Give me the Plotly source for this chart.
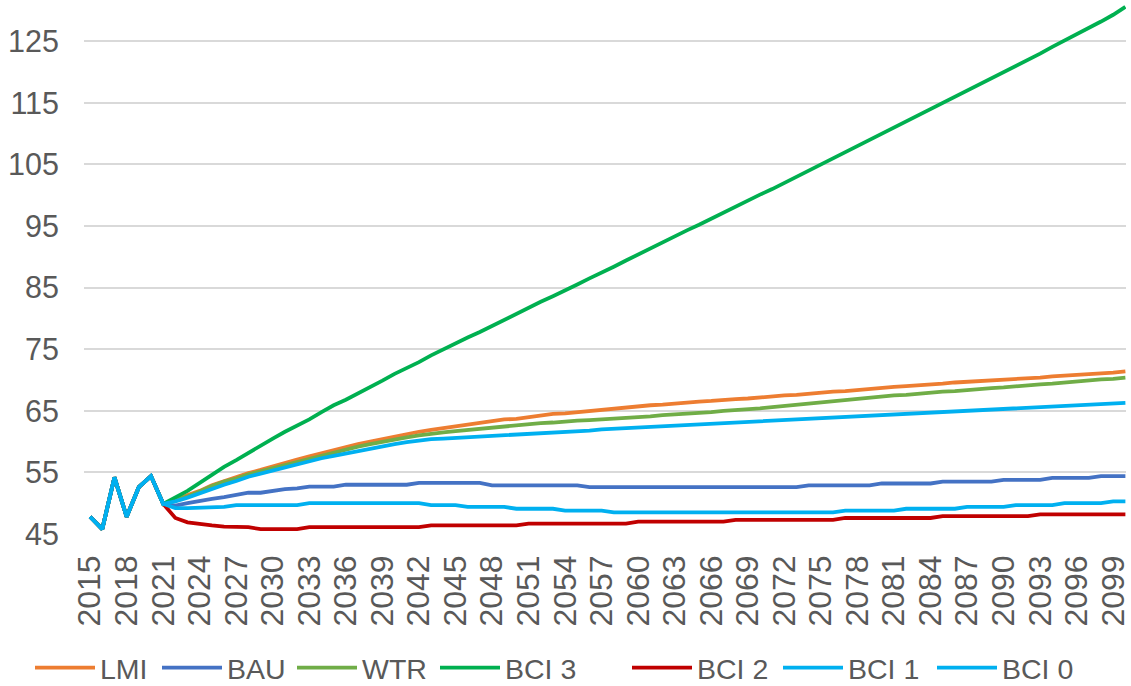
import plotly.graph_objects as go

years = list(range(2015, 2101))

hist = [47.8, 45.8, 54.2, 47.8, 52.6, 54.4, 49.9]  # 2015-2021, shared by all scenarios

lmi = [50.6, 51.2, 52.0, 52.9, 53.6, 54.2, 54.9, 55.4, 56.0, 56.6,
       57.1, 57.6, 58.1, 58.7, 59.1, 59.6, 60.0, 60.4, 60.9, 61.2,
       61.6, 61.9, 62.2, 62.5, 62.8, 63.1, 63.4, 63.6, 63.7, 64.0,
       64.2, 64.5, 64.6, 64.8, 65.0, 65.2, 65.3, 65.5, 65.7, 65.9,
       66.0, 66.2, 66.4, 66.5, 66.6, 66.8, 66.9, 67.0, 67.2, 67.3,
       67.5, 67.6, 67.8, 67.9, 68.1, 68.2, 68.4, 68.5, 68.7, 68.9,
       69.0, 69.1, 69.3, 69.4, 69.6, 69.7, 69.9, 70.0, 70.1, 70.2,
       70.3, 70.4, 70.6, 70.7, 70.8, 71.0, 71.1, 71.2, 71.4]

bau = [49.6, 50.0, 50.4, 50.7, 51.0, 51.4, 51.7, 51.7, 52.0, 52.3,
       52.4, 52.7, 52.7, 52.7, 53.0, 53.0, 53.0, 53.0, 53.0, 53.0,
       53.3, 53.3, 53.3, 53.3, 53.3, 53.3, 52.9, 52.9, 52.9, 52.9,
       52.9, 52.9, 52.9, 52.9, 52.6, 52.6, 52.6, 52.6, 52.6, 52.6,
       52.6, 52.6, 52.6, 52.6, 52.6, 52.6, 52.6, 52.6, 52.6, 52.6,
       52.6, 52.6, 52.9, 52.9, 52.9, 52.9, 52.9, 52.9, 53.2, 53.2,
       53.2, 53.2, 53.2, 53.5, 53.5, 53.5, 53.5, 53.5, 53.8, 53.8,
       53.8, 53.8, 54.1, 54.1, 54.1, 54.1, 54.4, 54.4, 54.4]

wtr = [50.5, 51.1, 51.9, 52.8, 53.5, 54.0, 54.7, 55.2, 55.8, 56.3,
       56.8, 57.3, 57.8, 58.3, 58.7, 59.2, 59.6, 60.0, 60.4, 60.7,
       61.0, 61.3, 61.5, 61.7, 61.9, 62.1, 62.3, 62.4, 62.6, 62.8,
       63.0, 63.1, 63.3, 63.4, 63.5, 63.6, 63.8, 63.9, 64.0, 64.1,
       64.3, 64.4, 64.6, 64.7, 64.8, 65.0, 65.1, 65.3, 65.4, 65.6,
       65.8, 66.0, 66.1, 66.3, 66.5, 66.7, 66.9, 67.1, 67.3, 67.5,
       67.6, 67.8, 67.9, 68.1, 68.2, 68.4, 68.6, 68.7, 68.8, 69.0,
       69.1, 69.3, 69.4, 69.6, 69.7, 69.9, 70.1, 70.2, 70.4]

bci3 = [51.0, 52.0, 53.3, 54.6, 55.9, 57.0, 58.2, 59.3, 60.5, 61.6,
        62.6, 63.6, 64.8, 65.9, 66.8, 67.8, 68.9, 69.9, 71.0, 71.9,
        72.9, 74.0, 75.0, 75.9, 76.9, 77.8, 78.8, 79.8, 80.7, 81.7,
        82.7, 83.6, 84.5, 85.5, 86.5, 87.4, 88.4, 89.4, 90.4, 91.3,
        92.3, 93.3, 94.3, 95.2, 96.2, 97.1, 98.1, 99.1, 100.1, 101.0,
        102.0, 103.0, 104.0, 104.9, 105.9, 106.9, 107.9, 108.9, 109.9, 110.9,
        111.9, 112.9, 113.9, 114.9, 115.9, 116.9, 117.9, 118.9, 120.0, 121.0,
        122.0, 123.0, 124.1, 125.1, 126.1, 127.1, 128.2, 129.3, 130.6]

bci2 = [47.6, 46.9, 46.6, 46.4, 46.2, 46.1, 46.1, 45.8, 45.8, 45.8,
        45.8, 46.1, 46.1, 46.1, 46.1, 46.1, 46.1, 46.1, 46.1, 46.1,
        46.1, 46.4, 46.4, 46.4, 46.4, 46.4, 46.4, 46.4, 46.4, 46.7,
        46.7, 46.7, 46.7, 46.7, 46.7, 46.7, 46.7, 46.7, 47.0, 47.0,
        47.0, 47.0, 47.0, 47.0, 47.0, 47.0, 47.3, 47.3, 47.3, 47.3,
        47.3, 47.3, 47.3, 47.3, 47.3, 47.6, 47.6, 47.6, 47.6, 47.6,
        47.6, 47.6, 47.6, 47.9, 47.9, 47.9, 47.9, 47.9, 47.9, 47.9,
        47.9, 48.2, 48.2, 48.2, 48.2, 48.2, 48.2, 48.2, 48.2]

bci1 = [50.3, 50.9, 51.6, 52.4, 53.0, 53.6, 54.3, 54.8, 55.3, 55.9,
        56.4, 56.9, 57.3, 57.7, 58.1, 58.5, 58.9, 59.3, 59.6, 59.9,
        60.2, 60.4, 60.5, 60.6, 60.7, 60.8, 60.9, 61.0, 61.1, 61.3,
        61.4, 61.5, 61.6, 61.7, 61.8, 62.0, 62.1, 62.2, 62.3, 62.4,
        62.5, 62.6, 62.7, 62.8, 62.9, 62.9, 63.0, 63.1, 63.2, 63.3,
        63.4, 63.5, 63.6, 63.7, 63.8, 63.9, 64.0, 64.1, 64.2, 64.4,
        64.5, 64.6, 64.7, 64.8, 64.9, 65.0, 65.1, 65.2, 65.3, 65.3,
        65.4, 65.5, 65.6, 65.7, 65.8, 65.9, 66.0, 66.2, 66.3]

bci0 = [49.2, 49.2, 49.3, 49.4, 49.4, 49.7, 49.7, 49.7, 49.7, 49.7,
        49.7, 50.0, 50.0, 50.0, 50.0, 50.0, 50.0, 50.0, 50.0, 50.0,
        50.0, 49.7, 49.7, 49.7, 49.4, 49.4, 49.4, 49.4, 49.1, 49.1,
        49.1, 49.1, 48.8, 48.8, 48.8, 48.8, 48.5, 48.5, 48.5, 48.5,
        48.5, 48.5, 48.5, 48.5, 48.5, 48.5, 48.5, 48.5, 48.5, 48.5,
        48.5, 48.5, 48.5, 48.5, 48.5, 48.8, 48.8, 48.8, 48.8, 48.8,
        49.1, 49.1, 49.1, 49.1, 49.1, 49.4, 49.4, 49.4, 49.4, 49.7,
        49.7, 49.7, 49.7, 50.0, 50.0, 50.0, 50.0, 50.3, 50.3]

names = ["LMI", "BAU", "WTR", "BCI 3", "BCI 2", "BCI 1", "BCI 0"]
series = [lmi, bau, wtr, bci3, bci2, bci1, bci0]
colors = ["#ED7D31", "#4472C4", "#70AD47", "#00B050", "#C00000", "#00B0F0", "#00B0F0"]

x_ticks = list(range(2015, 2100, 3))
y_ticks = list(range(45, 126, 10))

FONT = "Liberation Sans, Arial, sans-serif"
GREY = "#595959"
W = 1131

# left edge (px) of each legend entry
legend_px = [30, 157, 292, 435, 627, 778, 932]

fig = go.Figure()
layout_legends = {}
for i, (name, vals, col) in enumerate(zip(names, series, colors)):
    key = "legend" if i == 0 else f"legend{i + 1}"
    fig.add_trace(go.Scatter(
        x=years, y=hist + vals, mode="lines", name=name,
        line=dict(color=col, width=3.8), legend=key,
    ))
    layout_legends[key] = dict(
        orientation="h", xref="container", yref="container",
        x=legend_px[i] / W, y=0.026, xanchor="left", yanchor="middle",
        itemwidth=60, font=dict(size=28.5, color=GREY),
        bgcolor="rgba(0,0,0,0)",
    )

fig.update_layout(
    width=W, height=686,
    margin=dict(l=84, r=0, t=0, b=152),
    paper_bgcolor="white", plot_bgcolor="white",
    font=dict(family=FONT, size=28, color=GREY),
    showlegend=True,
    **layout_legends,
)
fig.update_xaxes(
    range=[2014.5, 2100.05], tickvals=x_ticks, ticktext=[str(v) for v in x_ticks],
    tickangle=-90, showgrid=False, zeroline=False, showline=False,
    tickfont=dict(size=32, color=GREY), ticks="", ticklabelstandoff=14,
    ticklabeloverflow="allow",
)
fig.update_yaxes(
    range=[45, 131.7], tickvals=y_ticks, showgrid=True, gridcolor="#D9D9D9",
    gridwidth=2, zeroline=False, showline=False,
    tickfont=dict(size=30.5, color=GREY), ticks="", ticklabelstandoff=24,
)

fig.write_html("out.html")
